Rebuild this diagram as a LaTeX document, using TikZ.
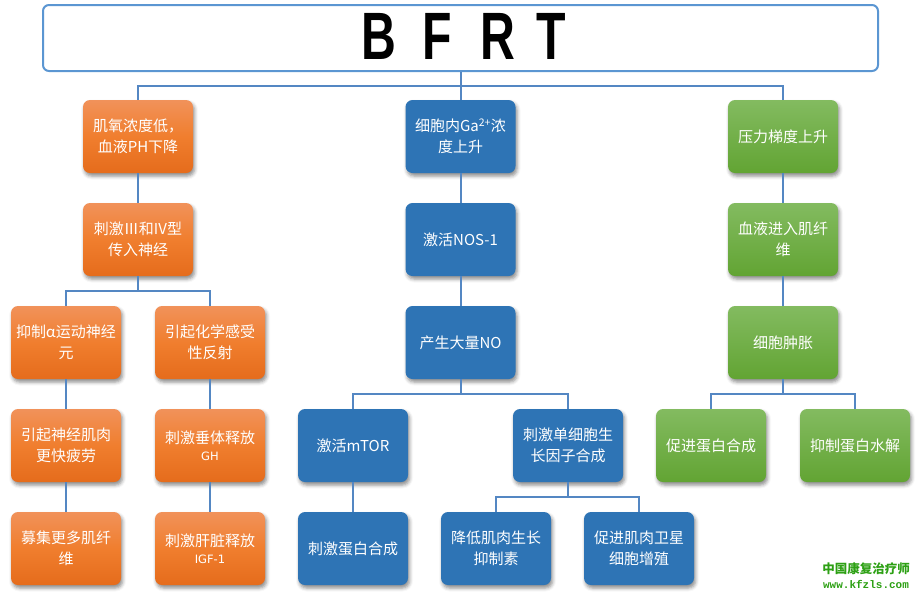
\documentclass[tikz,border=0pt]{standalone}
\usepackage{fontspec}
\setmainfont{Noto Sans CJK SC}
\newfontfamily\cjk{Noto Sans CJK SC}
\newfontfamily\lat{Carlito}
\newfontfamily\titlefont{Liberation Sans}
\newfontfamily\smallfont{DejaVu Sans}
\newfontfamily\wmmono{Liberation Mono}
\usetikzlibrary{shadows.blur}
\definecolor{orTop}{RGB}{241,146,90}
\definecolor{orMid}{RGB}{240,126,46}
\definecolor{orBot}{RGB}{229,108,28}
\definecolor{blFill}{RGB}{46,116,181}
\definecolor{grTop}{RGB}{131,187,96}
\definecolor{grBot}{RGB}{98,164,51}
\definecolor{connc}{RGB}{84,135,195}
\definecolor{titleBorder}{RGB}{91,150,210}
\definecolor{wmc}{RGB}{45,160,20}
\tikzset{
  box/.style={rounded corners=7pt, minimum width=110pt, minimum height=73pt,
    inner sep=0pt, text=white, align=center,
    font=\cjk\fontsize{15}{21}\selectfont,
    blur shadow={shadow xshift=1.5pt, shadow yshift=-3pt, shadow blur radius=3.5pt, shadow opacity=45}},
  obox/.style={box, top color=orTop, bottom color=orBot, middle color=orMid},
  bbox/.style={box, fill=blFill},
  gbox/.style={box, top color=grTop, bottom color=grBot},
  conn/.style={draw=connc, line width=2pt},
}
\begin{document}
\begin{tikzpicture}[x=1pt,y=-1pt]
\useasboundingbox (0,0) rectangle (920,595);
% title
\node[draw=titleBorder, line width=2pt, rounded corners=6pt, fill=white,
      minimum width=835pt, minimum height=66pt, inner sep=0pt] (title) at (460.5,38) {};
\node[inner sep=0pt, font=\titlefont\bfseries\fontsize{67}{67}\selectfont] (titletext) at (464,36)
  {\scalebox{0.72}[1]{B\hspace{36pt}F\hspace{39pt}R\hspace{30pt}T}};
% left column
\node[obox] (o1) at (138,136.5) {肌氧浓度低，\\血液PH下降};
\node[obox] (o2) at (138,239.5) {刺激Ⅲ和IV型\\传入神经};
\node[obox] (o3a) at (66,342.5) {抑制{\lat\fontsize{17}{21}\selectfont α}运动神经\\元};
\node[obox] (o3b) at (210,342.5) {引起化学感受\\性反射};
\node[obox] (o4a) at (66,445.5) {引起神经肌肉\\更快疲劳};
\node[obox] (o4b) at (210,445.5) {刺激垂体释放\\[-4pt]{\smallfont\fontsize{11.5}{12}\selectfont GH}};
\node[obox] (o5a) at (66,548.5) {募集更多肌纤\\维};
\node[obox] (o5b) at (210,548.5) {刺激肝脏释放\\[-4pt]{\smallfont\fontsize{11.5}{12}\selectfont IGF-1}};
% middle column
\node[bbox] (m1) at (460.5,136.5) {细胞内Ga\textsuperscript{2+}浓\\度上升};
\node[bbox] (m2) at (460.5,239.5) {激活NOS-1};
\node[bbox] (m3) at (460.5,342.5) {产生大量NO};
\node[bbox] (m4a) at (353,445.5) {激活mTOR};
\node[bbox] (m4b) at (568,445.5) {刺激单细胞生\\长因子合成};
\node[bbox] (m5a) at (353,548.5) {刺激蛋白合成};
\node[bbox] (m5b) at (496,548.5) {降低肌肉生长\\抑制素};
\node[bbox] (m5c) at (639,548.5) {促进肌肉卫星\\细胞增殖};
% right column
\node[gbox] (g1) at (783,136.5) {压力梯度上升};
\node[gbox] (g2) at (783,239.5) {血液进入肌纤\\维};
\node[gbox] (g3) at (783,342.5) {细胞肿胀};
\node[gbox] (g4a) at (711,445.5) {促进蛋白合成};
\node[gbox] (g4b) at (855,445.5) {抑制蛋白水解};
% bus coordinates
\coordinate (b0) at (460.5,86);
\coordinate (bl) at (138,291);
\coordinate (bm) at (460.5,394);
\coordinate (bmr) at (568,497);
\coordinate (br) at (783,394);
% connectors
\draw[conn] (title.south) -- (b0);
\draw[conn] (b0) -| (o1.north);
\draw[conn] (b0) -- (m1.north);
\draw[conn] (b0) -| (g1.north);
\draw[conn] (o1.south) -- (o2.north);
\draw[conn] (o2.south) -- (bl);
\draw[conn] (bl) -| (o3a.north);
\draw[conn] (bl) -| (o3b.north);
\draw[conn] (o3a.south) -- (o4a.north);
\draw[conn] (o4a.south) -- (o5a.north);
\draw[conn] (o3b.south) -- (o4b.north);
\draw[conn] (o4b.south) -- (o5b.north);
\draw[conn] (m1.south) -- (m2.north);
\draw[conn] (m2.south) -- (m3.north);
\draw[conn] (m3.south) -- (bm);
\draw[conn] (bm) -| (m4a.north);
\draw[conn] (bm) -| (m4b.north);
\draw[conn] (m4a.south) -- (m5a.north);
\draw[conn] (m4b.south) -- (bmr);
\draw[conn] (bmr) -| (m5b.north);
\draw[conn] (bmr) -| (m5c.north);
\draw[conn] (g1.south) -- (g2.north);
\draw[conn] (g2.south) -- (g3.north);
\draw[conn] (g3.south) -- (br);
\draw[conn] (br) -| (g4a.north);
\draw[conn] (br) -| (g4b.north);
% watermark
\node[inner sep=0pt, text=wmc, font=\cjk\bfseries\fontsize{12.5}{14}\selectfont] (wm1) at (866,569) {中国康复治疗师};
\node[inner sep=0pt, text=wmc, font=\wmmono\bfseries\fontsize{11}{12}\selectfont] (wm2) at (866,584) {www.kfzls.com};
\end{tikzpicture}
\end{document}
